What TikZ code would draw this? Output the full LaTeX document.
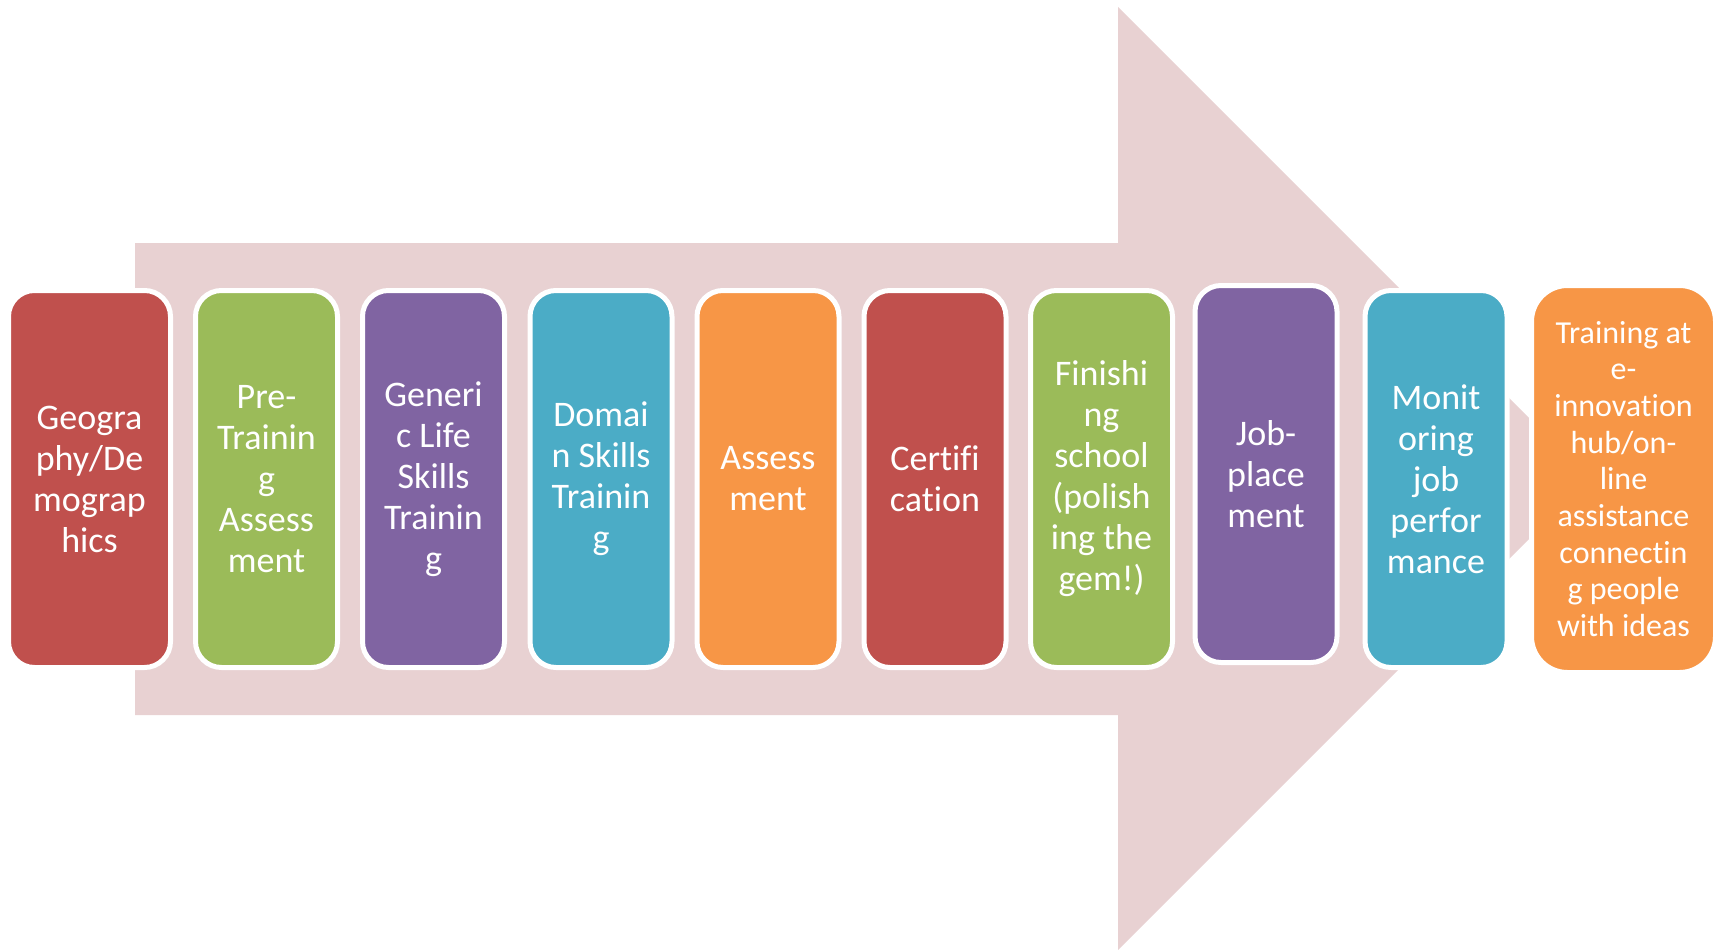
\documentclass[tikz,border=0pt]{standalone}
\usepackage{fontspec}
\setmainfont[Ligatures=CommonOff]{Carlito}
\definecolor{arrowpink}{RGB}{232,209,210}
\definecolor{cred}{HTML}{C0504D}
\definecolor{cgreen}{HTML}{9BBB59}
\definecolor{cpurple}{HTML}{8064A2}
\definecolor{cteal}{HTML}{4BACC6}
\definecolor{corange}{HTML}{F79646}
\begin{document}
\begin{tikzpicture}[x=1pt,y=-1pt,
  stagebox/.style={rounded corners=26pt, draw=white, line width=5pt, text=white,
    align=center, inner sep=0pt, minimum width=142pt, minimum height=377pt,
    font=\fontsize{36}{41}\selectfont},
]
\useasboundingbox (0,0) rectangle (1719,950);
% big background arrow
\fill[arrowpink] (135,243) -- (1118,243) -- (1118,7) -- (1589.5,478.5)
  -- (1118,950) -- (1118,715) -- (135,715) -- cycle;
% stages
\node[stagebox, fill=cred, minimum width=162pt] (s1) at (89.5,479) {Geogra\\phy/De\\mograp\\hics};
\node[stagebox, fill=cgreen] (s2) at (266.5,479) {Pre-\\Trainin\\g\\Assess\\ment};
\node[stagebox, fill=cpurple] (s3) at (433.5,479) {Generi\\c Life\\Skills\\Trainin\\g};
\node[stagebox, fill=cteal] (s4) at (601,479) {Domai\\n Skills\\Trainin\\g};
\node[stagebox, fill=corange] (s5) at (768,479) {Assess\\ment};
\node[stagebox, fill=cred] (s6) at (935,479) {Certifi\\cation};
\node[stagebox, fill=cgreen] (s7) at (1101.5,479) {Finishi\\ng\\school\\(polish\\ing the\\gem!)};
\node[stagebox, fill=cpurple] (s8) at (1266,474) {Job-\\place\\ment};
\node[stagebox, fill=cteal] (s9) at (1436,479) {Monit\\oring\\job\\perfor\\mance};
\node[stagebox, fill=corange, rounded corners=36pt, minimum width=184pt, minimum height=387pt,
  font=\fontsize{32}{36.7}\selectfont] (s10) at (1623.5,479)
  {Training at\\e-\\innovation\\hub/on-\\line\\assistance\\connectin\\g people\\with ideas};
\end{tikzpicture}
\end{document}
